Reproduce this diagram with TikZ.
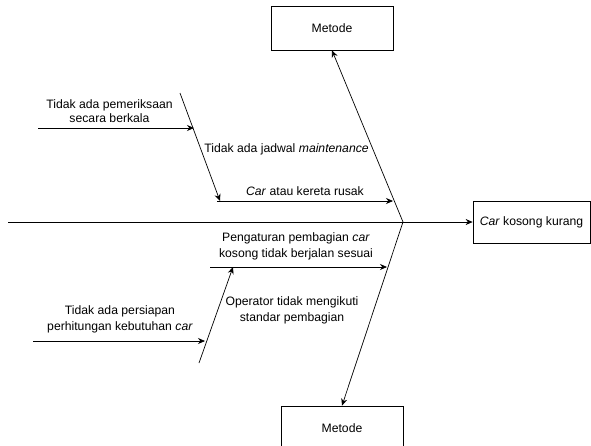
\documentclass[tikz,border=0pt]{standalone}
\usepackage{fontspec}
\setmainfont{Liberation Sans}
\usetikzlibrary{arrows.meta}
\begin{document}
\begin{tikzpicture}[x=1pt,y=-1pt,line width=0.7pt,
  box/.style={draw,inner sep=0pt,font=\fontsize{12.2}{14}\selectfont},
  lbl/.style={align=center,inner sep=0pt,font=\fontsize{12.2}{16}\selectfont},
  arr/.style={-{Stealth[length=7pt,width=6pt]}}]
  \useasboundingbox (0,0) rectangle (591,445);
  \clip (0,0) rectangle (591,445);
  % boxes
  \node[box,minimum width=122pt,minimum height=44pt] (metodeA) at (332,28) {Metode};
  \node[box,minimum width=117pt,minimum height=42pt] (akibat) at (531.5,222) {\textit{Car} kosong kurang};
  \node[box,minimum width=122pt,minimum height=44pt] (metodeB) at (342,428) {Metode};
  % spine
  \coordinate (ekor) at (8,222);
  \coordinate (pusat) at (403,222);
  \draw[arr] (ekor) -- (akibat);
  \draw[arr] (pusat) -- (metodeA.south);
  \draw[arr] (pusat) -- (metodeB.north);
  % upper branch
  \coordinate (jadwalA) at (180,93);
  \coordinate (jadwalB) at (220,201);
  \coordinate (rusakA) at (217,201);
  \coordinate (rusakB) at (393,201);
  \coordinate (periksaA) at (38,128);
  \coordinate (periksaB) at (194,128);
  \draw[arr] (jadwalA) -- (jadwalB);
  \draw[arr] (rusakA) -- (rusakB);
  \draw[arr] (periksaA) -- (periksaB);
  % lower branch
  \coordinate (aturA) at (210,267);
  \coordinate (aturB) at (387,267);
  \coordinate (operatorA) at (199,363);
  \coordinate (operatorB) at (233,267);
  \coordinate (siapA) at (33,341);
  \coordinate (siapB) at (205,341);
  \draw[arr] (aturA) -- (aturB);
  \draw[arr] (operatorA) -- (operatorB);
  \draw[arr] (siapA) -- (siapB);
  % labels
  \node[lbl,font=\fontsize{12.2}{14}\selectfont] (periksa) at (109.5,111) {Tidak ada pemeriksaan\\secara berkala};
  \node[lbl,anchor=west] (jadwal) at (204,149) {Tidak ada jadwal \textit{maintenance}};
  \node[lbl] (rusak) at (305,191) {\textit{Car} atau kereta rusak};
  \node[lbl] (atur) at (296,246) {Pengaturan pembagian \textit{car}\\kosong tidak berjalan sesuai};
  \node[lbl] (operator) at (292,310) {Operator tidak mengikuti\\standar pembagian};
  \node[lbl] (siap) at (120,319.5) {Tidak ada persiapan\\perhitungan kebutuhan \textit{car}};
\end{tikzpicture}
\end{document}
